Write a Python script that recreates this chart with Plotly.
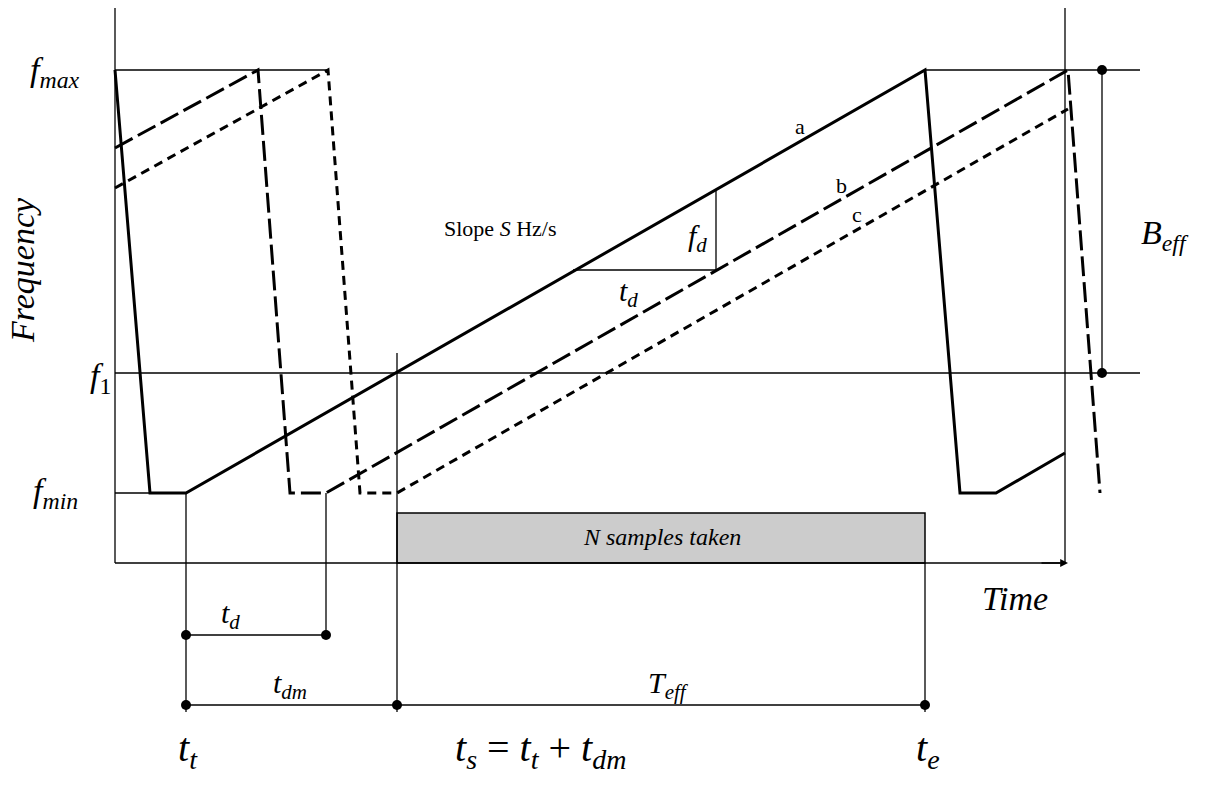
import plotly.graph_objects as go

# chirp waveforms (diagram pixel coords)
a_x = [115, 150, 186, 925, 960, 996, 1065]
a_y = [70, 493, 493, 70, 493, 493, 453]
b_x = [115, 258, 290, 326, 1068, 1100]
b_y = [148, 70, 493, 493, 70, 493]
c_x = [115, 328, 360, 397, 1068]
c_y = [188, 70, 493, 493, 109]

FONT = "Liberation Serif"
fig = go.Figure()
fig.add_trace(go.Scatter(x=a_x, y=a_y, mode="lines", line=dict(color="black", width=3)))
fig.add_trace(go.Scatter(x=b_x, y=b_y, mode="lines", line=dict(color="black", width=3, dash="20px,6px")))
fig.add_trace(go.Scatter(x=c_x, y=c_y, mode="lines", line=dict(color="black", width=3, dash="9px,6px")))

thin = [
    (115, 70, 328, 70), (925, 70, 1140, 70), (115, 373, 1140, 373), (115, 493, 150, 493),
    (186, 493, 186, 712), (326, 493, 326, 635), (397, 353, 397, 712), (925, 563, 925, 712),
    (186, 635, 326, 635), (186, 705, 925, 705), (1102, 70, 1102, 373),
    (573, 270, 716, 270), (716, 190, 716, 270),
    (115, 1, 1065, 1), (115, 1, 115, 563), (1065, 1, 1065, 563), (115, 563, 1060, 563),
]
shapes = [dict(type="line", x0=x0, y0=y0, x1=x1, y1=y1, line=dict(color="black", width=1.3))
          for x0, y0, x1, y1 in thin]
shapes.append(dict(type="rect", x0=397, y0=513, x1=925, y1=563, fillcolor="#cccccc",
                   line=dict(color="black", width=1.5), layer="below"))
dots_x = [186, 326, 186, 397, 925, 1102, 1102]
dots_y = [635, 635, 705, 705, 705, 70, 373]
fig.add_trace(go.Scatter(x=dots_x, y=dots_y, mode="markers", marker=dict(color="black", size=10)))

ann = [
    (55, 72, "<i>f</i><sub><i>max</i></sub>", 34),
    (100, 378, "<i>f</i><sub>1</sub>", 34),
    (55, 493, "<i>f</i><sub><i>min</i></sub>", 34),
    (1015, 598, "<i>Time</i>", 34),
    (1165, 235, "<i>B</i><sub><i>eff</i></sub>", 34),
    (500, 228, "Slope <i>S</i> Hz/s", 22),
    (697, 238, "<i>f</i><sub><i>d</i></sub>", 30),
    (628, 293, "<i>t</i><sub><i>d</i></sub>", 30),
    (230, 615, "<i>t</i><sub><i>d</i></sub>", 30),
    (290, 685, "<i>t</i><sub><i>dm</i></sub>", 30),
    (668, 685, "<i>T</i><sub><i>eff</i></sub>", 30),
    (188, 750, "<i>t</i><sub><i>t</i></sub>", 40),
    (540, 750, "<i>t</i><sub><i>s</i></sub> = <i>t</i><sub><i>t</i></sub> + <i>t</i><sub><i>dm</i></sub>", 40),
    (928, 750, "<i>t</i><sub><i>e</i></sub>", 40),
    (662, 537, "<i>N samples taken</i>", 24),
    (800, 126, "a", 22), (841, 185, "b", 22), (857, 214, "c", 22),
]
annotations = [dict(x=22, y=270, text="<i>Frequency</i>", textangle=-90, showarrow=False,
                    font=dict(size=34, family=FONT, color="black"))]
for x, y, t, s in ann:
    annotations.append(dict(x=x, y=y, text=t, showarrow=False, font=dict(size=s, family=FONT, color="black")))
annotations.append(dict(x=1068, y=563, ax=1040, ay=563, axref="x", ayref="y", showarrow=True,
                        arrowhead=2, arrowsize=1.2, arrowwidth=1.3, arrowcolor="black", text=""))

fig.update_layout(width=1194, height=769, margin=dict(l=0, r=0, t=0, b=0), showlegend=False,
                  plot_bgcolor="white", paper_bgcolor="white", shapes=shapes, annotations=annotations,
                  xaxis=dict(range=[8, 1202], visible=False),
                  yaxis=dict(range=[777, 8], visible=False))
fig.write_html("out.html")
